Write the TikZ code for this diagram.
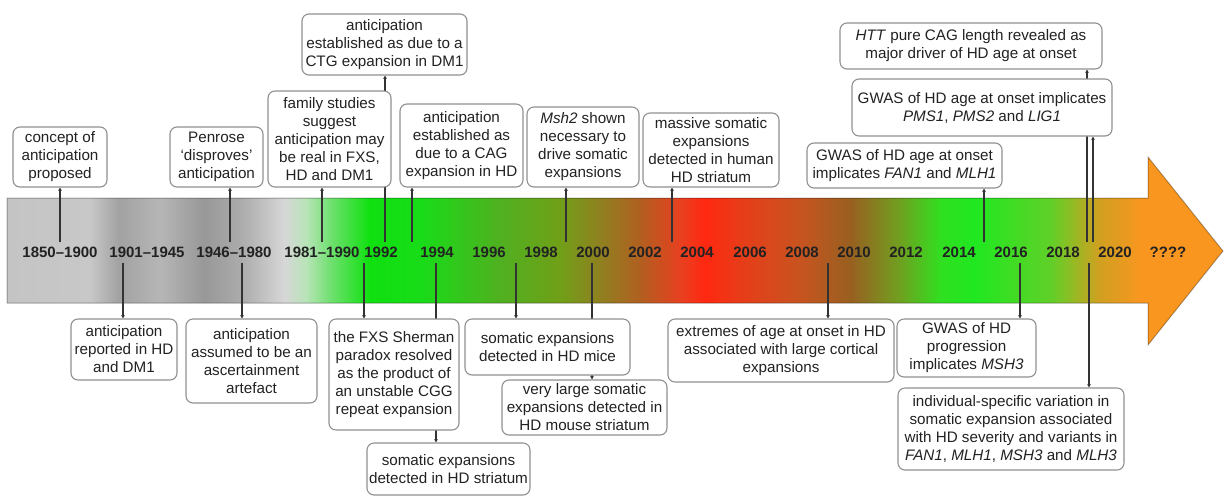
\documentclass[tikz,border=0pt]{standalone}
\usepackage{fontspec}
\setmainfont{Liberation Sans}
\usetikzlibrary{arrows.meta}
\definecolor{c00}{HTML}{C4C4C4}
\definecolor{c01}{HTML}{C8C8C8}
\definecolor{c02}{HTML}{A2A2A2}
\definecolor{c03}{HTML}{B6B6B6}
\definecolor{c04}{HTML}{989898}
\definecolor{c05}{HTML}{ABABAB}
\definecolor{c06}{HTML}{D6D6D6}
\definecolor{c07}{HTML}{B8E4B8}
\definecolor{c08}{HTML}{70E070}
\definecolor{c09}{HTML}{10E010}
\definecolor{c10}{HTML}{18DC18}
\definecolor{c11}{HTML}{50B020}
\definecolor{c12}{HTML}{70A018}
\definecolor{c13}{HTML}{908020}
\definecolor{c14}{HTML}{B06020}
\definecolor{c15}{HTML}{E84020}
\definecolor{c16}{HTML}{FF2810}
\definecolor{c17}{HTML}{E83C18}
\definecolor{c18}{HTML}{C85420}
\definecolor{c19}{HTML}{986020}
\definecolor{c20}{HTML}{70A020}
\definecolor{c21}{HTML}{30E020}
\definecolor{c22}{HTML}{20E820}
\definecolor{c23}{HTML}{60D028}
\definecolor{c24}{HTML}{D0A020}
\definecolor{c25}{HTML}{F89620}
\definecolor{boxgray}{HTML}{909090}
\definecolor{txt}{HTML}{222222}
\definecolor{linec}{HTML}{333333}
\pgfdeclarehorizontalshading{timeline}{100bp}{color(0bp)=(c00); color(25bp)=(c00); color(28.4bp)=(c01); color(29.6bp)=(c02); color(31.3bp)=(c03); color(33.1bp)=(c04); color(34.6bp)=(c05); color(36.4bp)=(c06); color(37.3bp)=(c07); color(38.3bp)=(c08); color(39.9bp)=(c09); color(42bp)=(c10); color(45.3bp)=(c11); color(47.7bp)=(c12); color(49.4bp)=(c13); color(51bp)=(c14); color(52.7bp)=(c15); color(53.7bp)=(c16); color(55.1bp)=(c17); color(57.6bp)=(c18); color(59.7bp)=(c19); color(61.7bp)=(c20); color(63.4bp)=(c21); color(64.8bp)=(c22); color(67.9bp)=(c23); color(69.9bp)=(c24); color(71.6bp)=(c25); color(75bp)=(c25); color(100bp)=(c25)}
\pgfdeclarelayer{bg}
\pgfdeclarelayer{lines}
\pgfsetlayers{bg,lines,main}
\begin{document}
\begin{tikzpicture}[x=1pt,y=-1pt,
  box/.style={draw=boxgray, line width=1.1pt, rounded corners=7pt, fill=white, align=center,
    font=\fontsize{15.2}{18}\selectfont, text=txt, inner sep=1pt},
  yr/.style={font=\fontsize{15}{18}\selectfont\bfseries, text=txt, inner sep=0pt},
  conn/.style={draw=linec, line width=1.2pt, -{Latex[length=3pt,width=4pt]}}]
\useasboundingbox (0,0) rectangle (1225,496);

% timeline arrow
\begin{pgfonlayer}{bg}
\path[shading=timeline, draw=black, draw opacity=0.3, line width=1pt]
  (7,198) -- (1148,198) -- (1148,157) -- (1223,251) -- (1148,345) -- (1148,303) -- (7,303) -- cycle;
\end{pgfonlayer}

% year labels
\node[yr] (y1) at (60,252) {1850–1900};
\node[yr] (y2) at (147,252) {1901–1945};
\node[yr] (y3) at (234,252) {1946–1980};
\node[yr] (y4) at (322,252) {1981–1990};
\node[yr] (y5) at (381,252) {1992};
\node[yr] (y6) at (437,252) {1994};
\node[yr] (y7) at (489,252) {1996};
\node[yr] (y8) at (541,252) {1998};
\node[yr] (y9) at (593,252) {2000};
\node[yr] (y10) at (645,252) {2002};
\node[yr] (y11) at (697,252) {2004};
\node[yr] (y12) at (750,252) {2006};
\node[yr] (y13) at (802,252) {2008};
\node[yr] (y14) at (854,252) {2010};
\node[yr] (y15) at (906,252) {2012};
\node[yr] (y16) at (959,252) {2014};
\node[yr] (y17) at (1011,252) {2016};
\node[yr] (y18) at (1063,252) {2018};
\node[yr] (y19) at (1115,252) {2020};
\node[yr] (y20) at (1168,252) {????};

% top boxes
\node[box, minimum width=94pt, minimum height=60pt] (T1) at (60,157) {concept of\\anticipation\\proposed};
\node[box, minimum width=93pt, minimum height=60pt] (T2) at (216.5,157) {Penrose\\‘disproves’\\anticipation};
\node[box, minimum width=123pt, minimum height=96pt] (T3) at (329.5,139) {family studies\\suggest\\anticipation may\\be real in FXS,\\HD and DM1};
\node[box, minimum width=165pt, minimum height=61pt] (T4) at (384.5,44.5) {anticipation\\established as due to a\\CTG expansion in DM1};
\node[box, minimum width=123pt, minimum height=83pt] (T5) at (461.5,145.5) {anticipation\\established as\\due to a CAG\\expansion in HD};
\node[box, minimum width=112pt, minimum height=80pt] (T6) at (583,147) {\textit{Msh2} shown\\necessary to\\drive somatic\\expansions};
\node[box, minimum width=136pt, minimum height=74pt] (T7) at (711,150) {massive somatic\\expansions\\detected in human\\HD striatum};
\node[box, minimum width=195pt, minimum height=45pt] (T8) at (904.5,165.5) {GWAS of HD age at onset\\implicates \textit{FAN1} and \textit{MLH1}};
\node[box, minimum width=260pt, minimum height=57pt] (T9) at (982,107.5) {GWAS of HD age at onset implicates\\\textit{PMS1}, \textit{PMS2} and \textit{LIG1}};
\node[box, minimum width=262pt, minimum height=46pt] (T10) at (971,46) {\textit{HTT} pure CAG length revealed as\\major driver of HD age at onset};

% bottom boxes
\node[box, minimum width=106pt, minimum height=61pt] (B1) at (124,349.5) {anticipation\\reported in HD\\and DM1};
\node[box, minimum width=131pt, minimum height=84pt] (B2) at (251.5,361) {anticipation\\assumed to be an\\ascertainment\\artefact};
\node[box, minimum width=130pt, minimum height=111pt] (B3) at (394,374.5) {the FXS Sherman\\paradox resolved\\as the product of\\an unstable CGG\\repeat expansion};
\node[box, minimum width=163pt, minimum height=52pt] (B4) at (448.5,469) {somatic expansions\\detected in HD striatum};
\node[box, minimum width=165pt, minimum height=56pt] (B5) at (547.5,347) {somatic expansions\\detected in HD mice};
\node[box, minimum width=165pt, minimum height=55pt] (B6) at (584.5,407.5) {very large somatic\\expansions detected in\\HD mouse striatum};
\node[box, minimum width=226pt, minimum height=63pt] (B7) at (781,350.5) {extremes of age at onset in HD\\associated with large cortical\\expansions};
\node[box, minimum width=139pt, minimum height=58pt] (B8) at (966.5,348) {GWAS of HD\\progression\\implicates \textit{MSH3}};
\node[box, minimum width=226pt, minimum height=82pt] (B9) at (1011,429) {individual-specific variation in\\somatic expansion associated\\with HD severity and variants in\\\textit{FAN1}, \textit{MLH1}, \textit{MSH3} and \textit{MLH3}};

% connector anchors on the band
\coordinate (a1) at (60,242);
\coordinate (a2) at (230,242);
\coordinate (a3) at (322,242);
\coordinate (a4) at (385,242);
\coordinate (a5) at (412,242);
\coordinate (a6) at (566,242);
\coordinate (a7) at (672,242);
\coordinate (a8) at (984,242);
\coordinate (a9) at (1093,242);
\coordinate (a10) at (1087,242);
\coordinate (b1) at (123,263);
\coordinate (b2) at (242,263);
\coordinate (b3) at (364,263);
\coordinate (b4) at (436,263);
\coordinate (b5) at (516,263);
\coordinate (b6) at (592,263);
\coordinate (b7) at (828,263);
\coordinate (b8) at (1020,263);
\coordinate (b9) at (1089,263);

\begin{pgfonlayer}{lines}
\foreach \i in {1,...,10} {\draw[conn] (a\i) -- (a\i |- T\i.south);}
\foreach \i in {1,...,9} {\draw[conn] (b\i) -- (b\i |- B\i.north);}
\end{pgfonlayer}
\end{tikzpicture}
\end{document}
